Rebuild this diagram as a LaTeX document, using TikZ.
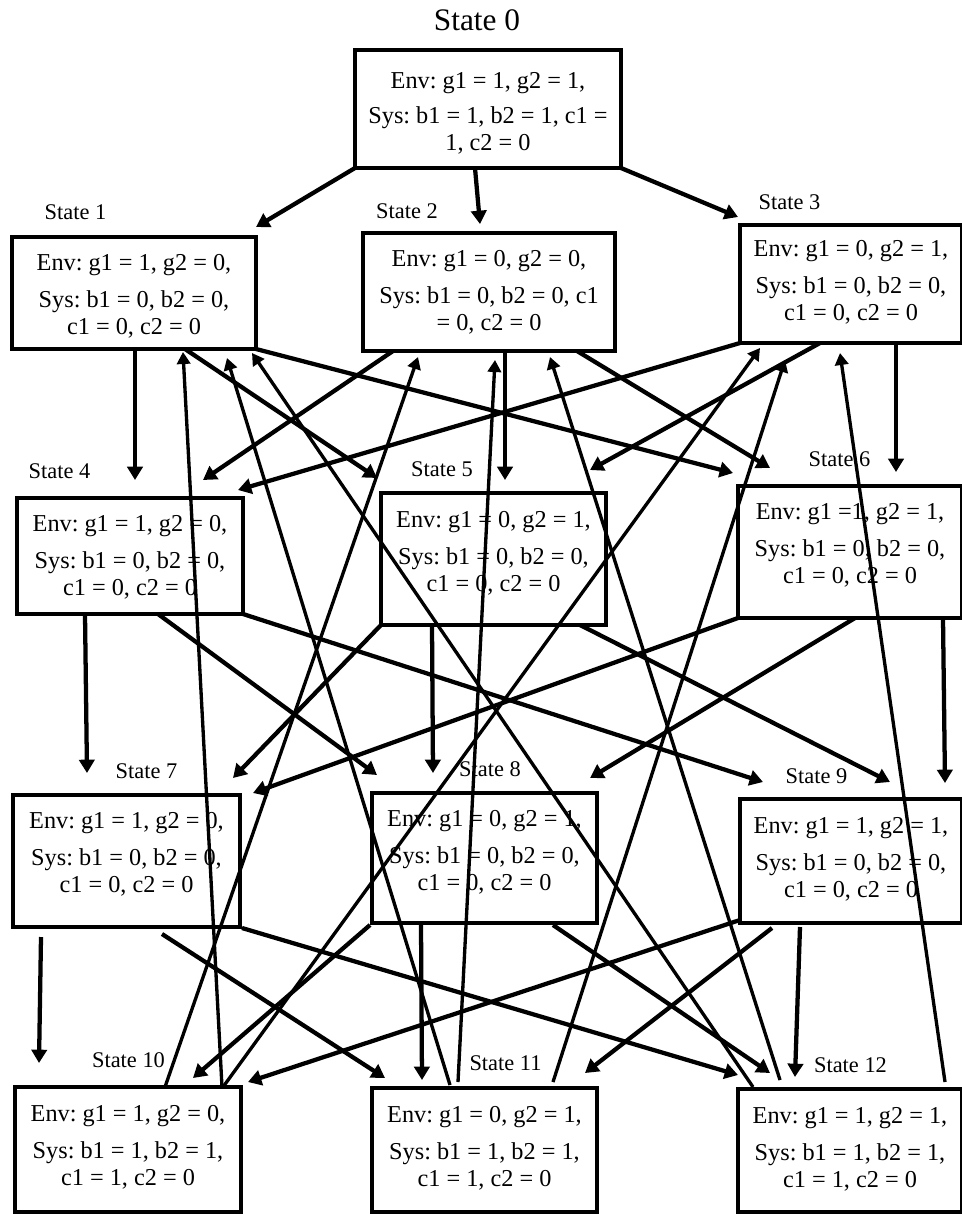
\documentclass[tikz,border=0pt]{standalone}
\usepackage{fontspec}
\setmainfont{Liberation Serif}
\usetikzlibrary{arrows.meta,calc}
\begin{document}
\frenchspacing
\begin{tikzpicture}[x=0.75pt,y=-0.75pt,
  sbox/.style={draw, line width=3.4pt, inner sep=0pt, outer sep=0pt, fill=white},
  stxt/.style={anchor=base, text width=215pt, align=flush center, inner sep=0pt,
    font=\fontsize{18.2pt}{20.25pt}\selectfont},
  slab/.style={anchor=base, inner sep=0pt, font=\fontsize{16.8pt}{20pt}\selectfont},
  arrA/.style={-{Triangle[length=10pt,width=11.5pt]}, line width=3.2pt},
  arrB/.style={-{Triangle[length=9pt,width=10pt]}, line width=2.5pt},
]
\useasboundingbox (0,0) rectangle (961,1214);

% state boxes
\node[sbox, minimum width=199.5pt, minimum height=88.5pt] (s0) at (488,109) {};
\node[sbox, minimum width=183pt,   minimum height=84pt]   (s1) at (134,293) {};
\node[sbox, minimum width=189pt,   minimum height=88.5pt] (s2) at (489,292) {};
\node[sbox, minimum width=166.5pt, minimum height=88.5pt] (s3) at (851,284) {};
\node[sbox, minimum width=169.5pt, minimum height=87pt]   (s4) at (130,556) {};
\node[sbox, minimum width=168.75pt,minimum height=99pt]   (s5) at (493.5,559) {};
\node[sbox, minimum width=168pt,   minimum height=99pt]   (s6) at (850,552) {};
\node[sbox, minimum width=170.25pt,minimum height=99pt]   (s7) at (126.5,861) {};
\node[sbox, minimum width=168.75pt,minimum height=97.5pt] (s8) at (484.5,858) {};
\node[sbox, minimum width=166.5pt, minimum height=93pt]   (s9) at (851,861) {};
\node[sbox, minimum width=169.5pt, minimum height=93.75pt](s10) at (128,1149.5) {};
\node[sbox, minimum width=168.75pt,minimum height=93pt]   (s11) at (484.5,1150) {};
\node[sbox, minimum width=168pt,   minimum height=92.25pt](s12) at (850,1150.5) {};

% box contents
\node[stxt] (t0) at ($(s0.north)+(0,38)$) {Env: g1 = 1, g2 = 1,\\[6pt]Sys: b1 = 1, b2 = 1, c1 =\\1, c2 = 0};
\node[stxt] (t1) at ($(s1.north)+(0,33)$) {Env: g1 = 1, g2 = 0,\\[7.5pt]Sys: b1 = 0, b2 = 0,\\c1 = 0, c2 = 0};
\node[stxt] (t2) at ($(s2.north)+(0,33)$) {Env: g1 = 0, g2 = 0,\\[7.5pt]Sys: b1 = 0, b2 = 0, c1\\= 0, c2 = 0};
\node[stxt] (t3) at ($(s3.north)+(0,31)$) {Env: g1 = 0, g2 = 1,\\[7.5pt]Sys: b1 = 0, b2 = 0,\\c1 = 0, c2 = 0};
\node[stxt] (t4) at ($(s4.north)+(0,33)$) {Env: g1 = 1, g2 = 0,\\[7.5pt]Sys: b1 = 0, b2 = 0,\\c1 = 0, c2 = 0};
\node[stxt] (t5) at ($(s5.north)+(0,34)$) {Env: g1 = 0, g2 = 1,\\[7.5pt]Sys: b1 = 0, b2 = 0,\\c1 = 0, c2 = 0};
\node[stxt] (t6) at ($(s6.north)+(0,33)$) {Env: g1 =1, g2 = 1,\\[7.5pt]Sys: b1 = 0, b2 = 0,\\c1 = 0, c2 = 0};
\node[stxt] (t7) at ($(s7.north)+(0,33)$) {Env: g1 = 1, g2 = 0,\\[7.5pt]Sys: b1 = 0, b2 = 0,\\c1 = 0, c2 = 0};
\node[stxt] (t8) at ($(s8.north)+(0,33)$) {Env: g1 = 0, g2 = 1,\\[7.5pt]Sys: b1 = 0, b2 = 0,\\c1 = 0, c2 = 0};
\node[stxt] (t9) at ($(s9.north)+(0,34)$) {Env: g1 = 1, g2 = 1,\\[7.5pt]Sys: b1 = 0, b2 = 0,\\c1 = 0, c2 = 0};
\node[stxt] (t10) at ($(s10.north)+(0,34)$) {Env: g1 = 1, g2 = 0,\\[7.5pt]Sys: b1 = 1, b2 = 1,\\c1 = 1, c2 = 0};
\node[stxt] (t11) at ($(s11.north)+(0,34)$) {Env: g1 = 0, g2 = 1,\\[7.5pt]Sys: b1 = 1, b2 = 1,\\c1 = 1, c2 = 0};
\node[stxt] (t12) at ($(s12.north)+(0,34)$) {Env: g1 = 1, g2 = 1,\\[7.5pt]Sys: b1 = 1, b2 = 1,\\c1 = 1, c2 = 0};

% state labels
\node[slab, font=\fontsize{23.5pt}{26pt}\selectfont] (l0) at (477,30) {State 0};
\node[slab] (l1) at (75.5,219) {State 1};
\node[slab] (l2) at (407,218) {State 2};
\node[slab] (l3) at (789.5,209) {State 3};
\node[slab] (l4) at (59.5,478) {State 4};
\node[slab] (l5) at (442,476) {State 5};
\node[slab] (l6) at (839.5,466) {State 6};
\node[slab] (l7) at (146.5,778) {State 7};
\node[slab] (l8) at (490,776) {State 8};
\node[slab] (l9) at (816.5,783) {State 9};
\node[slab] (l10) at (128.5,1067) {State 10};
\node[slab] (l11) at (505.5,1070) {State 11};
\node[slab] (l12) at (850.5,1072) {State 12};

% transitions downwards
\draw[arrA] (s0.south west) -- ($(s1.north east)+(0,-10)$);
\draw[arrA] ($(s0.south)+(-13,0)$) -- ($(s2.north)+(-9,-9)$);
\draw[arrA] (s0.south east) -- ($(s3.north west)+(-2,-8)$);
\draw[arrA] ($(s1.south)+(1,0)$) -- ($(s4.north)+(5,-18)$);
\draw[arrA] ($(s1.south)+(51,0)$) -- ($(s5.north west)+(-4,-15)$);
\draw[arrA] (s1.south east) -- ($(s6.north west)+(-5,-13)$);
\draw[arrA] ($(s2.south west)+(30,0)$) -- ($(s4.north east)+(-40,-18)$);
\draw[arrA] ($(s2.south)+(16,0)$) -- ($(s5.north)+(11.5,-13)$);
\draw[arrA] ($(s2.south east)+(-38,0)$) -- ($(s6.north west)+(32,-18)$);
\draw[arrA] (s3.south west) -- ($(s4.north east)+(-5,-8)$);
\draw[arrA] ($(s3.south west)+(80,0)$) -- ($(s5.north east)+(-16,-23)$);
\draw[arrA] ($(s3.south west)+(156,0)$) -- ($(s6.north west)+(158,-14)$);
\draw[arrA] ($(s4.south west)+(68,0)$) -- ($(s7.north west)+(74,-22)$);
\draw[arrA] ($(s4.south west)+(141,0)$) -- ($(s8.north west)+(5,-18)$);
\draw[arrA] (s4.south east) -- ($(s9.north west)+(23,-17)$);
\draw[arrA] (s5.south west) -- ($(s7.north east)+(-7,-17)$);
\draw[arrA] ($(s5.south west)+(51,0)$) -- ($(s8.north west)+(61,-20)$);
\draw[arrA] ($(s5.south east)+(-26,0)$) -- ($(s9.north west)+(150,-17)$);
\draw[arrA] (s6.south west) -- ($(s7.north east)+(13,-2)$);
\draw[arrA] ($(s6.south west)+(117,0)$) -- ($(s8.north east)+(-7,-15)$);
\draw[arrA] ($(s6.south west)+(205,0)$) -- ($(s9.north west)+(205,-16)$);
\draw[arrA] ($(s7.south west)+(28,10)$) -- ($(s10.north west)+(24,-24)$);
\draw[arrA] ($(s7.south west)+(149,7)$) -- ($(s11.north west)+(13,-10)$);
\draw[arrA] ($(s7.south east)+(2,1)$) -- ($(s12.north west)+(0,-14)$);
\draw[arrA] ($(s8.south west)+(-2,2)$) -- ($(s10.north east)+(-48,-9)$);
\draw[arrA] ($(s8.south west)+(49,2)$) -- ($(s11.north west)+(50,-8)$);
\draw[arrA] ($(s8.south west)+(181,2)$) -- ($(s12.north west)+(32,-16)$);
\draw[arrA] ($(s9.south west)+(0,-3)$) -- ($(s10.north east)+(7,-5)$);
\draw[arrA] ($(s9.south west)+(32,5)$) -- ($(s11.north east)+(-12,-15)$);
\draw[arrA] ($(s9.south west)+(60,4)$) -- ($(s12.north west)+(57,-12)$);

% transitions back up from the bottom row
\draw[arrB] ($(s10.north east)+(-19,0)$) -- ($(s1.south west)+(171,3)$);
\draw[arrB] ($(s11.north west)+(78,-3)$) -- ($(s1.south east)+(-29,9)$);
\draw[arrB] ($(s12.north west)+(15,-2)$) -- ($(s1.south east)+(-4,4)$);
\draw[arrB] ($(s10.north west)+(150,0)$) -- ($(s2.south west)+(55,6)$);
\draw[arrB] ($(s11.north west)+(86,-6)$) -- ($(s2.south)+(6,9)$);
\draw[arrB] ($(s12.north west)+(42,-9)$) -- ($(s2.south east)+(-65,6)$);
\draw[arrB] ($(s10.north east)+(-18,0)$) -- ($(s3.south west)+(20,5)$);
\draw[arrB] ($(s11.north east)+(-44,-6)$) -- ($(s3.south west)+(45,17)$);
\draw[arrB] ($(s12.north west)+(207,-7)$) -- ($(s3.south west)+(100,10)$);
\end{tikzpicture}
\end{document}
